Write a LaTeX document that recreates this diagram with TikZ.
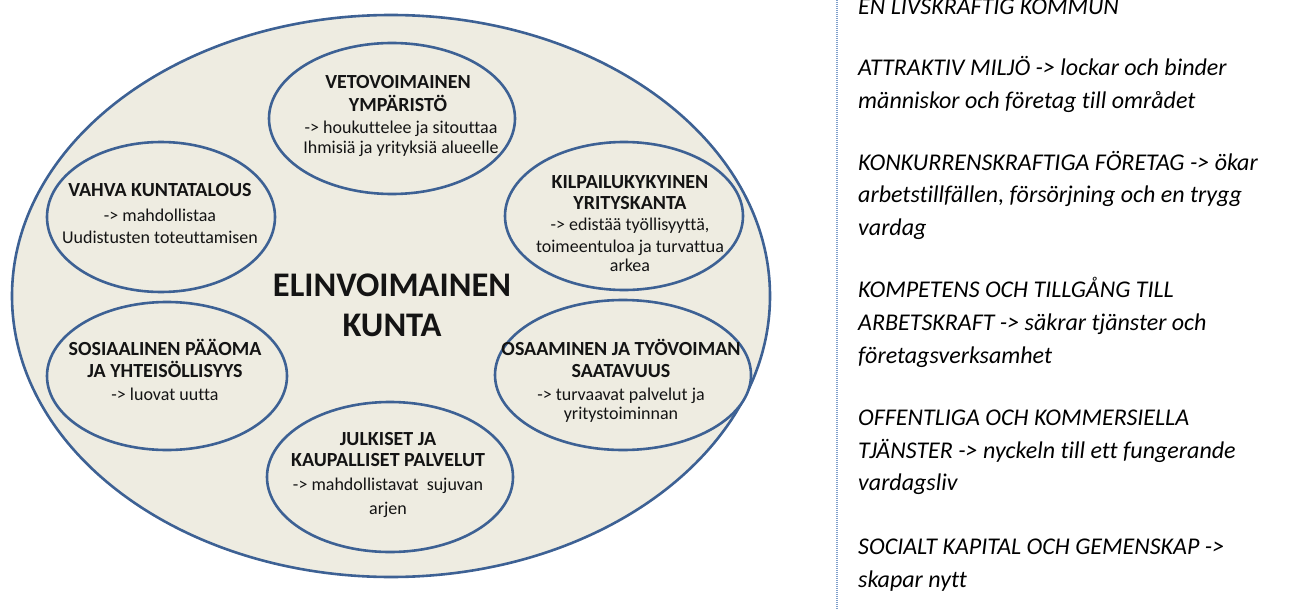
\documentclass[tikz,border=0pt]{standalone}
\usepackage{fontspec}
\setmainfont[Ligatures={NoCommon}]{Carlito}
\usetikzlibrary{shapes.geometric}
\definecolor{edgeblue}{HTML}{3D6194}
\definecolor{paper}{HTML}{EEECE1}
\definecolor{rulecol}{HTML}{7F9FCB}
\definecolor{ink}{HTML}{141414}
\tikzset{
  bub/.style={ellipse, draw=edgeblue, fill=paper, line width=2.6pt, inner sep=0pt},
  ttl/.style={anchor=base, inner sep=0pt, text=ink, font=\fontsize{20}{23}\selectfont\bfseries},
  bdy/.style={anchor=base, inner sep=0pt, text=ink, font=\fontsize{18}{21}\selectfont},
  big/.style={anchor=base, inner sep=0pt, text=ink, font=\fontsize{34.5}{40}\selectfont\bfseries},
  rt/.style={anchor=base west, inner sep=0pt, text=black, font=\fontsize{24}{28}\selectfont\itshape},
}
\begin{document}
\begin{tikzpicture}[x=1pt,y=-1pt]
\useasboundingbox (0,0) rectangle (1304,610);
% outer ellipse
\node[bub, minimum width=758pt, minimum height=562pt] (outer) at (391,296) {};
% inner ellipses
\node[bub, minimum width=246pt, minimum height=151pt] (veto) at (392,118.5) {};
\node[bub, minimum width=228pt, minimum height=150pt] (vahva) at (161,217) {};
\node[bub, minimum width=238pt, minimum height=148pt] (kilp) at (624,216) {};
\node[bub, minimum width=240pt, minimum height=148pt] (sos) at (167,376) {};
\node[bub, minimum width=256pt, minimum height=150pt] (osa) at (623,375) {};
\node[bub, minimum width=246pt, minimum height=150pt] (julk) at (390,477) {};
% centre
\node[big] (c1) at (392,296.7) {ELINVOIMAINEN};
\node[big] (c2) at (392,336) {KUNTA};
% veto
\node[ttl] (v1) at (398,88.3) {VETOVOIMAINEN};
\node[ttl] (v2) at (398,111) {YMPÄRISTÖ};
\node[bdy] (v3) at (401,133.3) {-> houkuttelee ja sitouttaa};
\node[bdy] (v4) at (401,153.3) {Ihmisiä ja yrityksiä alueelle};
% vahva
\node[ttl] (a1) at (160,196) {VAHVA KUNTATALOUS};
\node[bdy] (a2) at (160,221) {-> mahdollistaa};
\node[bdy] (a3) at (160,243.3) {Uudistusten toteuttamisen};
% kilpailu
\node[ttl] (k1) at (630,188.3) {KILPAILUKYKYINEN};
\node[ttl] (k2) at (630,209) {YRITYSKANTA};
\node[bdy] (k3) at (630,230.7) {-> edistää työllisyyttä,};
\node[bdy] (k4) at (630,252.7) {toimeentuloa ja turvattua};
\node[bdy] (k5) at (630,271.7) {arkea};
% sosiaalinen
\node[ttl] (s1) at (165,355) {SOSIAALINEN PÄÄOMA};
\node[ttl] (s2) at (165,377.3) {JA YHTEISÖLLISYYS};
\node[bdy] (s3) at (165,400) {-> luovat uutta};
% osaaminen
\node[ttl] (o1) at (621,355) {OSAAMINEN JA TYÖVOIMAN};
\node[ttl] (o2) at (621,377.3) {SAATAVUUS};
\node[bdy] (o3) at (621,400) {-> turvaavat palvelut ja};
\node[bdy] (o4) at (621,419.3) {yritystoiminnan};
% julkiset
\node[ttl] (j1) at (388,445) {JULKISET JA};
\node[ttl] (j2) at (388,466.7) {KAUPALLISET PALVELUT};
\node[bdy] (j3) at (388,490) {-> mahdollistavat\ \ sujuvan};
\node[bdy] (j4) at (388,514) {arjen};
% divider
\coordinate (lt) at (837,0);
\coordinate (lb) at (837,610);
\draw[rulecol, line width=1.3pt, dash pattern=on 1pt off 1pt] (lt) -- (lb);
% right text
\node[rt] (r1) at (858,15) {EN LIVSKRAFTIG KOMMUN};
\node[rt] (r2) at (858,76) {ATTRAKTIV MILJÖ -> lockar och binder};
\node[rt] (r3) at (858,108.5) {människor och företag till området};
\node[rt] (r4) at (858,170) {KONKURRENSKRAFTIGA FÖRETAG -> ökar};
\node[rt] (r5) at (858,202.5) {arbetstillfällen, försörjning och en trygg};
\node[rt] (r6) at (858,235) {vardag};
\node[rt] (r7) at (858,297) {KOMPETENS OCH TILLGÅNG TILL};
\node[rt] (r8) at (858,330) {ARBETSKRAFT -> säkrar tjänster och};
\node[rt] (r9) at (858,363) {företagsverksamhet};
\node[rt] (r10) at (858,425.5) {OFFENTLIGA OCH KOMMERSIELLA};
\node[rt] (r11) at (858,458) {TJÄNSTER -> nyckeln till ett fungerande};
\node[rt] (r12) at (858,490.5) {vardagsliv};
\node[rt] (r13) at (858,554) {SOCIALT KAPITAL OCH GEMENSKAP ->};
\node[rt] (r14) at (858,587) {skapar nytt};
\end{tikzpicture}
\end{document}
